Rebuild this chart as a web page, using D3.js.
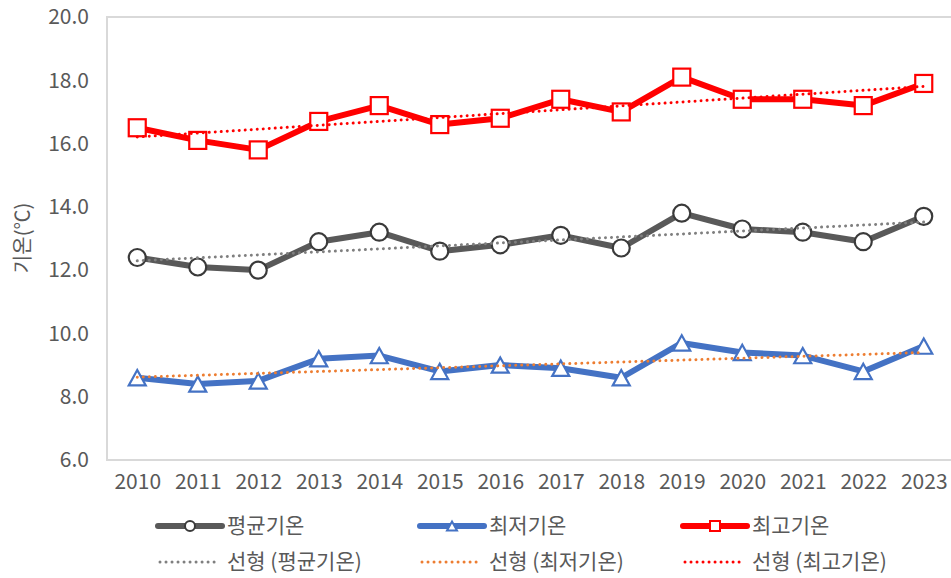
<!DOCTYPE html>
<html>
<head>
<meta charset="utf-8">
<script src="https://cdn.jsdelivr.net/npm/d3@7"></script>
<style>
  html, body { margin: 0; padding: 0; background: #fff; }
  svg { display: block; font-family: "Noto Sans CJK KR", "Noto Sans", sans-serif; }
  .tick text { fill: #595959; }
</style>
</head>
<body>
<svg id="chart" width="951" height="578"></svg>
<script>
// ---- data ----
var years = ['2010', '2011', '2012', '2013', '2014', '2015', '2016',
             '2017', '2018', '2019', '2020', '2021', '2022', '2023'];
var avgTemp = [12.4, 12.1, 12.0, 12.9, 13.2, 12.6, 12.8, 13.1, 12.7, 13.8, 13.3, 13.2, 12.9, 13.7];
var minTemp = [8.6, 8.4, 8.5, 9.2, 9.3, 8.8, 9.0, 8.9, 8.6, 9.7, 9.4, 9.3, 8.8, 9.6];
var maxTemp = [16.5, 16.1, 15.8, 16.7, 17.2, 16.6, 16.8, 17.4, 17.0, 18.1, 17.4, 17.4, 17.2, 17.9];
var yTicks = [6, 8, 10, 12, 14, 16, 18, 20];
var yTitle = '기온(℃)';

var series = [
    { name: '평균기온', values: avgTemp, color: '#595959', marker: 'circle', trendColor: '#7f7f7f', trendName: '선형 (평균기온)' },
    { name: '최저기온', values: minTemp, color: '#4472c4', marker: 'triangle', trendColor: '#ed7d31', trendName: '선형 (최저기온)' },
    { name: '최고기온', values: maxTemp, color: '#ff0000', marker: 'square', trendColor: '#ff0000', trendName: '선형 (최고기온)' }
];

var svg = d3.select('#chart');
var plot = { left: 107, top: 17, right: 954, bottom: 460 };

var x = d3.scalePoint().domain(years).range([plot.left, plot.right]).padding(0.5);
var y = d3.scaleLinear().domain([6, 20]).range([plot.bottom, plot.top]);

// plot area border
svg.append('rect')
    .attr('x', plot.left).attr('y', plot.top)
    .attr('width', plot.right - plot.left + 10).attr('height', plot.bottom - plot.top)
    .attr('fill', 'none').attr('stroke', '#d9d9d9').attr('stroke-width', 2);

// axes (labels only)
var yAxis = svg.append('g')
    .attr('transform', 'translate(' + (plot.left - 18) + ',0)')
    .call(d3.axisLeft(y).tickValues(yTicks).tickFormat(d3.format('.1f')).tickSize(0).tickPadding(0));
yAxis.select('.domain').remove();
yAxis.selectAll('text').style('font-size', '21px').style('font-family', '"Noto Sans CJK KR", sans-serif');

var xAxis = svg.append('g')
    .attr('transform', 'translate(0,' + (plot.bottom + 14) + ')')
    .call(d3.axisBottom(x).tickSize(0).tickPadding(0));
xAxis.select('.domain').remove();
xAxis.selectAll('text').style('font-size', '21px').style('font-family', '"Noto Sans CJK KR", sans-serif');

svg.append('text')
    .attr('transform', 'translate(30,238) rotate(-90)')
    .attr('text-anchor', 'middle')
    .attr('fill', '#595959')
    .style('font-size', '20px')
    .text(yTitle);

function drawMarker(g, type, cx, cy, size, color, sw) {
    if (type === 'circle') {
        g.append('circle').attr('cx', cx).attr('cy', cy).attr('r', size / 2)
            .attr('fill', '#fff').attr('stroke', '#3a3a3a').attr('stroke-width', sw);
    } else if (type === 'square') {
        g.append('rect').attr('x', cx - size / 2).attr('y', cy - size / 2)
            .attr('width', size).attr('height', size)
            .attr('fill', '#fff').attr('stroke', color).attr('stroke-width', sw);
    } else {
        var h = size * 0.9;
        g.append('path')
            .attr('d', 'M' + cx + ',' + (cy - h / 2) + 'L' + (cx + size / 2) + ',' + (cy + h / 2) +
                'L' + (cx - size / 2) + ',' + (cy + h / 2) + 'Z')
            .attr('fill', '#fff').attr('stroke', color).attr('stroke-width', sw)
            .attr('stroke-linejoin', 'miter');
    }
}

// least-squares linear trend (same as a linear trendline)
function linearFit(vals) {
    var n = vals.length, sx = 0, sy = 0, sxy = 0, sxx = 0;
    vals.forEach(function(v, i) { sx += i; sy += v; sxy += i * v; sxx += i * i; });
    var b = (n * sxy - sx * sy) / (n * sxx - sx * sx);
    var a = (sy - b * sx) / n;
    return vals.map(function(v, i) { return a + b * i; });
}

var line = d3.line()
    .x(function(d, i) { return x(years[i]); })
    .y(function(d) { return y(d); });

series.forEach(function(s) {
    var g = svg.append('g');
    g.append('path').datum(s.values)
        .attr('d', line)
        .attr('fill', 'none')
        .attr('stroke', s.color)
        .attr('stroke-width', 6)
        .attr('stroke-linejoin', 'round');
    s.values.forEach(function(v, i) {
        drawMarker(g, s.marker, x(years[i]), y(v), 17, s.color, 2.2);
    });
});

// trendlines on top
series.forEach(function(s) {
    var trend = linearFit(s.values);
    svg.append('path').datum([trend[0], trend[trend.length - 1]])
        .attr('d', d3.line()
            .x(function(d, i) { return i === 0 ? x(years[0]) : x(years[years.length - 1]); })
            .y(function(d) { return y(d); }))
        .attr('fill', 'none')
        .attr('stroke', s.trendColor)
        .attr('stroke-width', 3)
        .attr('stroke-linecap', 'round')
        .attr('stroke-dasharray', '0.01 6');
});

// legend
var legendX = [158, 420, 683];
var row1 = 526, row2 = 562;
series.forEach(function(s, i) {
    var lx = legendX[i];
    var g = svg.append('g');
    g.append('line').attr('x1', lx).attr('x2', lx + 64).attr('y1', row1).attr('y2', row1)
        .attr('stroke', s.color).attr('stroke-width', 6).attr('stroke-linecap', 'round');
    drawMarker(g, s.marker, lx + 32, row1, 10, s.color, 2);
    g.append('text').attr('x', lx + 69).attr('y', row1).attr('dy', '0.35em')
        .attr('fill', '#595959').style('font-size', '21px').text(s.name);

    g.append('line').attr('x1', lx + 2).attr('x2', lx + 62).attr('y1', row2).attr('y2', row2)
        .attr('stroke', s.trendColor).attr('stroke-width', 3)
        .attr('stroke-linecap', 'round').attr('stroke-dasharray', '0.01 6');
    g.append('text').attr('x', lx + 69).attr('y', row2).attr('dy', '0.35em')
        .attr('fill', '#595959').style('font-size', '21px').text(s.trendName);
});
</script>
</body>
</html>
